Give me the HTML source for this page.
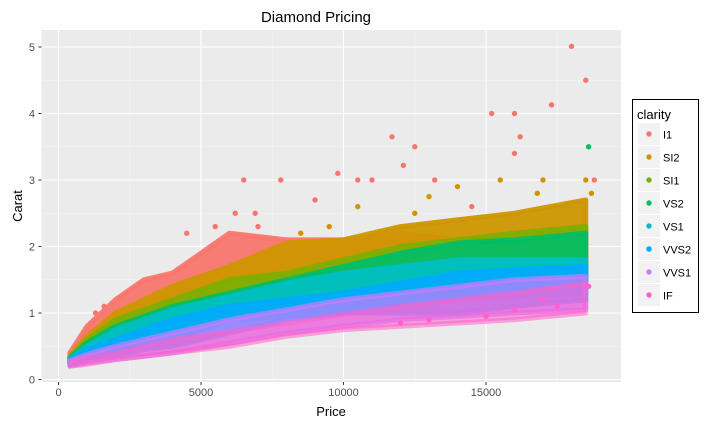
<!DOCTYPE html>
<html><head><meta charset="utf-8"><style>
body{margin:0;background:#fff;font-family:"Liberation Sans",sans-serif}
svg text{font-family:"Liberation Sans",sans-serif}
</style></head><body>
<svg id="chart" width="717" height="427">
<rect x="41.5" y="30" width="579.5" height="352" fill="#EBEBEB"/>
<g id="grid"></g><g id="bands"></g><g id="pts"></g><g id="axes"></g>
<text x="316" y="22" font-size="15" text-anchor="middle" fill="#000">Diamond Pricing</text>
<text x="331" y="416" font-size="13" text-anchor="middle" fill="#000">Price</text>
<text x="22" y="206" font-size="13" text-anchor="middle" fill="#000" transform="rotate(-90 22 206)">Carat</text>
<g id="legend">
<rect x="632.5" y="99.5" width="66" height="213" fill="#fff" stroke="#000"/>
<text x="637" y="119" font-size="13" fill="#000">clarity</text>
</g>
</svg>
<script>
const NS="http://www.w3.org/2000/svg";
const clarities=["I1","SI2","SI1","VS2","VS1","VVS2","VVS1","IF"];
const colors=["#F8766D","#CD9600","#7CAE00","#00BE67","#00BFC4","#00A9FF","#C77CFF","#FF61CC"];
const xTicks=[0,5000,10000,15000];
const yTicks=[0,1,2,3,4,5];
// band envelopes per clarity (price breakpoints, low carat, high carat)
const bandPrice=[400,1000,2000,3000,4000,6000,8000,10000,12000,14000,16000,18500];
const I1lo=[0.3,0.45,0.7,0.9,1.0,1.0,1.0,1.2,1.5,1.5,1.5,1.5];
const I1hi=[0.4,0.8,1.2,1.5,1.6,2.2,2.1,2.1,2.2,2.1,2.1,2.1];
const SI2lo=[0.25,0.35,0.5,0.7,0.9,1.0,1.5,1.5,1.6,2.0,2.0,2.0];
const SI2hi=[0.35,0.65,1.0,1.2,1.4,1.7,2.05,2.1,2.3,2.4,2.5,2.7];
const SI1lo=[0.25,0.33,0.5,0.65,0.8,1.0,1.0,1.2,1.3,1.5,1.5,1.5];
const SI1hi=[0.33,0.6,0.9,1.05,1.2,1.5,1.6,1.8,2.0,2.1,2.2,2.3];
const VS2lo=[0.23,0.3,0.4,0.55,0.7,0.9,1.0,1.1,1.2,1.3,1.4,1.5];
const VS2hi=[0.33,0.55,0.8,0.95,1.1,1.3,1.5,1.7,1.9,2.05,2.1,2.2];
const VS1lo=[0.23,0.3,0.4,0.5,0.6,0.9,0.95,1.0,1.1,1.2,1.25,1.3];
const VS1hi=[0.3,0.5,0.75,0.9,1.05,1.25,1.45,1.6,1.7,1.8,1.8,1.8];
const VVS2lo=[0.22,0.28,0.35,0.45,0.5,0.7,0.9,1.0,1.0,1.0,1.1,1.2];
const VVS2hi=[0.3,0.45,0.6,0.75,0.9,1.1,1.2,1.3,1.45,1.6,1.65,1.7];
const VVS1lo=[0.2,0.25,0.3,0.35,0.4,0.55,0.7,0.8,0.9,0.95,1.0,1.05];
const VVS1hi=[0.28,0.38,0.5,0.6,0.7,0.9,1.05,1.2,1.3,1.4,1.5,1.55];
const IFlo=[0.2,0.23,0.3,0.35,0.4,0.5,0.65,0.75,0.8,0.85,0.9,1.0];
const IFhi=[0.27,0.33,0.4,0.5,0.6,0.72,0.85,0.98,1.1,1.2,1.3,1.45];
const bandLo=[I1lo,SI2lo,SI1lo,VS2lo,VS1lo,VVS2lo,VVS1lo,IFlo];
const bandHi=[I1hi,SI2hi,SI1hi,VS2hi,VS1hi,VVS2hi,VVS1hi,IFhi];
// outlier points
const I1price=[6500,7800,9800,10500,11700,12100,12500,13200,15200,16000,16200,17300,18000,18500,16000,9000,6900,4500,11000,14500,18800,5500,6200,7000,1300,1600];
const I1carat=[3.0,3.0,3.1,3.0,3.65,3.22,3.5,3.0,4.0,4.0,3.65,4.13,5.01,4.5,3.4,2.7,2.5,2.2,3.0,2.6,3.0,2.3,2.5,2.3,1.0,1.1];
const SI2price=[14000,15500,17000,18500,18700,13000,10500,8500,16800,12500,9500];
const SI2carat=[2.9,3.0,3.0,3.0,2.8,2.75,2.6,2.2,2.8,2.5,2.3];
const VS2price=[18600];const VS2carat=[3.5];
const IFprice=[15000,16000,17500,18600,13000,12000,17000];const IFcarat=[0.95,1.05,1.1,1.4,0.9,0.85,1.2];
const ptP=[I1price,SI2price,[],VS2price,[],[],[],IFprice];
const ptC=[I1carat,SI2carat,[],VS2carat,[],[],[],IFcarat];
const bandOpacity=[0.95,0.95,0.9,0.9,0.9,0.85,0.7,0.55];
const X=v=>58.5+v*0.0285, Y=v=>379.5-v*66.5;
function mk(t,a,p){const e=document.createElementNS(NS,t);for(const k in a)e.setAttribute(k,a[k]);p.appendChild(e);return e;}
const grid=document.getElementById('grid');
[2500,7500,12500,17500].forEach(v=>{const l=mk('line',{x1:X(v),x2:X(v),y1:30,y2:382,stroke:'#F5F5F5','stroke-width':0.6},grid);

});
[0.5,1.5,2.5,3.5,4.5].forEach(v=>{const l=mk('line',{x1:41.5,x2:621,y1:Y(v),y2:Y(v),stroke:'#F5F5F5','stroke-width':0.6},grid);

});
const axes=document.getElementById('axes');
xTicks.forEach(v=>{const l=mk('line',{x1:X(v),x2:X(v),y1:30,y2:382,stroke:'#fff','stroke-width':1.1},grid);


mk('line',{x1:X(v),x2:X(v),y1:382,y2:385,stroke:'#333'},axes);
const t=mk('text',{x:X(v),y:396,'font-size':11,'text-anchor':'middle',fill:'#4D4D4D'},axes);t.textContent=v;

});
yTicks.forEach(v=>{const l=mk('line',{x1:41.5,x2:621,y1:Y(v),y2:Y(v),stroke:'#fff','stroke-width':1.1},grid);


mk('line',{x1:38.5,x2:41.5,y1:Y(v),y2:Y(v),stroke:'#333'},axes);
const t=mk('text',{x:35,y:Y(v)+4,'font-size':11,'text-anchor':'end',fill:'#4D4D4D'},axes);t.textContent=v;

});
const bands=document.getElementById('bands');
clarities.forEach((c,i)=>{let d='';
bandPrice.forEach((p,j)=>{d+=(j?'L':'M')+X(p)+','+Y(bandHi[i][j]);});
for(let j=bandPrice.length-1;j>=0;j--)d+='L'+X(bandPrice[j])+','+Y(bandLo[i][j]);
const b=mk('path',{d:d+'Z',fill:colors[i],stroke:colors[i],'stroke-width':5,'stroke-linejoin':'round','fill-opacity':bandOpacity[i],'stroke-opacity':bandOpacity[i]},bands);

});
const pts=document.getElementById('pts');
clarities.forEach((c,i)=>{ptP[i].forEach((p,j)=>{const e=mk('circle',{cx:X(p),cy:Y(ptC[i][j]),r:2.7,fill:colors[i]},pts);

});});
const lg=document.getElementById('legend');
clarities.forEach((c,i)=>{const y=123+i*23;
const r=mk('rect',{x:638,y:y,width:22,height:22,fill:'#F2F2F2'},lg);


mk('circle',{cx:649,cy:y+11,r:2.7,fill:colors[i]},lg);
const t=mk('text',{x:663,y:y+15.5,'font-size':11,fill:'#000'},lg);t.textContent=c;

});
</script>
</body></html>
